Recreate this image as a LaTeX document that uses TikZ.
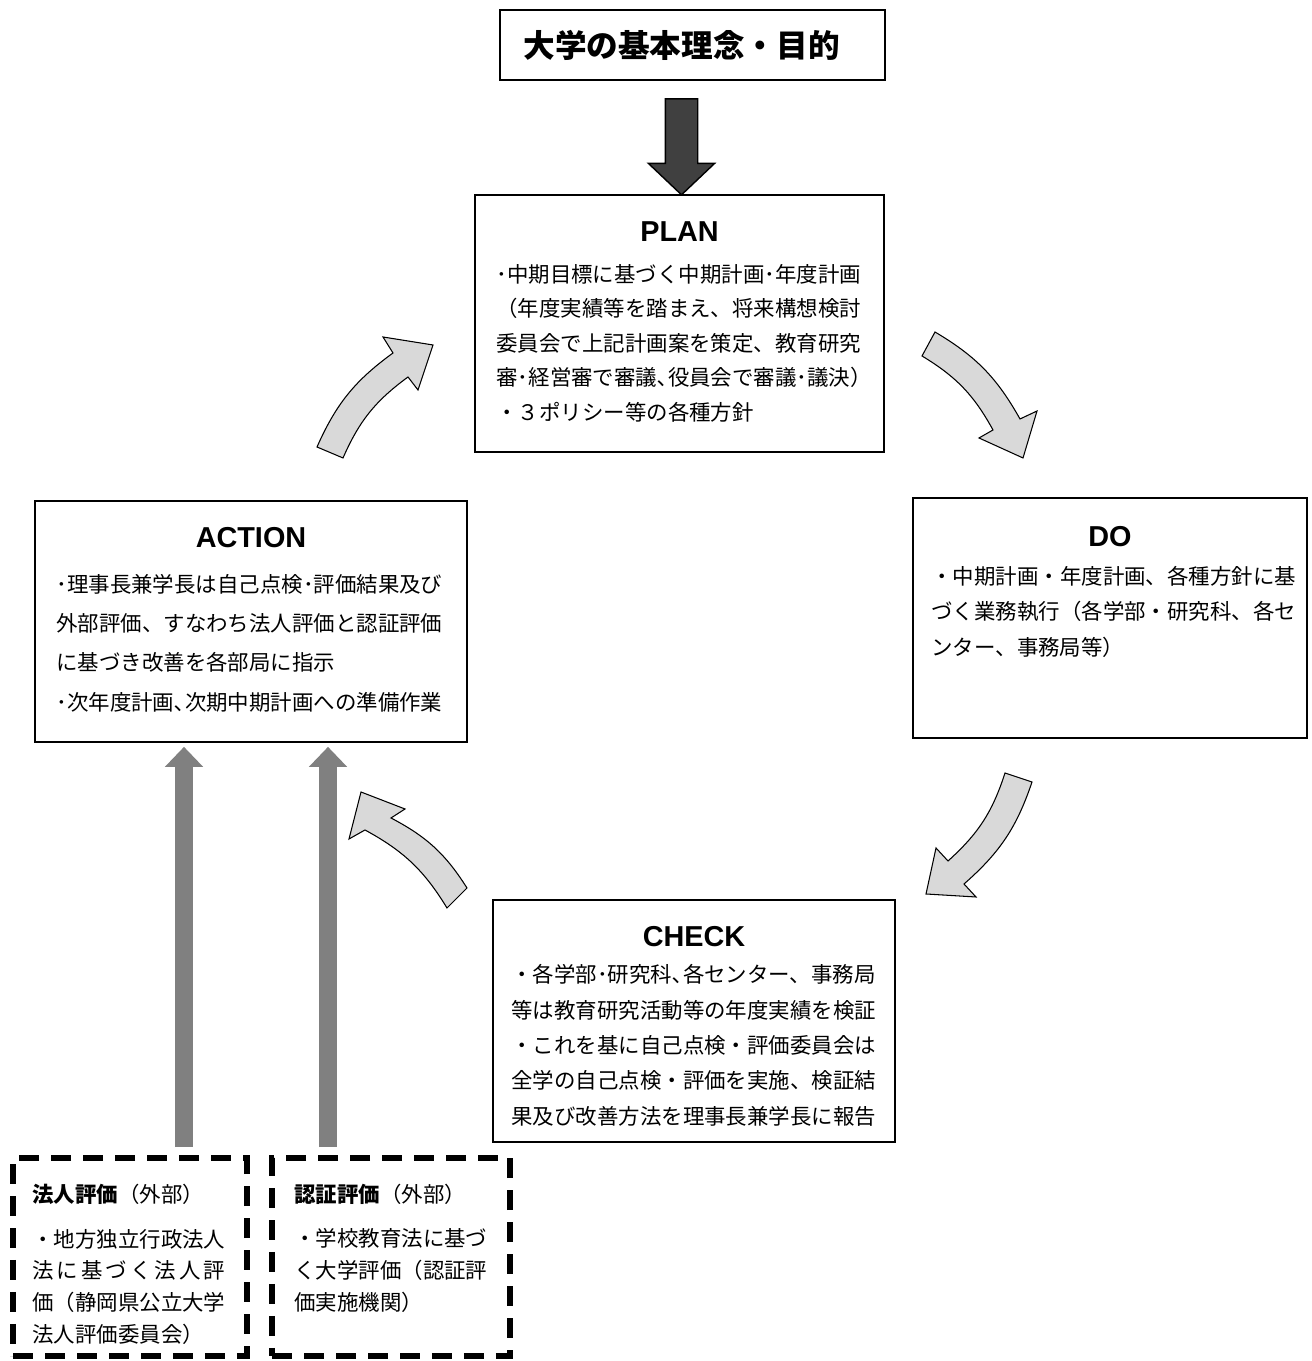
\documentclass[tikz,border=0pt]{standalone}
\usepackage{fontspec}
\setmainfont{Liberation Sans}
\newfontfamily\cjk{Noto Sans CJK JP}
\usetikzlibrary{arrows.meta,shapes.arrows,positioning}

\begin{document}
\begin{tikzpicture}[x=0.02cm, y=0.02cm,
    stage/.style={draw, line width=1pt, inner sep=0pt},
    extbox/.style={draw, line width=0.115cm, dash pattern=on 0.4cm off 0.24cm, inner sep=0pt},
    stagehead/.style={font=\bfseries\fontsize{16.4}{18}\selectfont, inner sep=0pt},
    stagetext/.style={font=\cjk\fontsize{12.2}{20.1}\selectfont, align=left, inner sep=0pt, anchor=base west},
    cycarrow/.style={fill=cyclegray, draw=black, line width=0.6pt},
    uparrow/.style={draw=upgray, line width=0.36cm, shorten <=0.16cm, shorten >=0.08cm,
        -{Triangle[width=0.74cm, length=0.4cm]}}]

        % Define colors
        \definecolor{cyclegray}{RGB}{217, 217, 217}
        \definecolor{upgray}{RGB}{128, 128, 128}
        \definecolor{darkarrow}{RGB}{64, 64, 64}

        \useasboundingbox (0,0) rectangle (1311,1361);

        % --- TOP: basic idea ---
        \node[stage, minimum width=7.7cm, minimum height=1.4cm] (aim) at (692.5,1316) {};
        \node[font=\cjk\bfseries\fontsize{18}{22}\selectfont, inner sep=0pt] (aim-t)
            at ([shift={(-11,0)}]aim.center) {大学の基本理念・目的};

        % --- PLAN ---  (text nodes sit on the baseline of their last line)
        \node[stage, minimum width=8.18cm, minimum height=5.14cm] (plan) at (679.5,1037.5) {};
        \node[stagehead] (plan-t) at ([shift={(0,-37)}]plan.north) {PLAN};
        \node[stagetext, font=\cjk\fontsize{12.2}{19.6}\selectfont] (plan-b) at ([shift={(22,-226)}]plan.north west)
            {･中期目標に基づく中期計画･年度計画\\
             （年度実績等を踏まえ、将来構想検討\\
             委員会で上記計画案を策定、教育研究\\
             審･経営審で審議､役員会で審議･議決）\\
             ・３ポリシー等の各種方針};

        \node[single arrow, draw=black, fill=darkarrow, rotate=-90, line width=0.8pt, inner sep=0.31cm,
            minimum height=1.92cm, minimum width=1.3cm, single arrow head extend=0.34cm,
            single arrow tip angle=93] (down) at ([shift={(2,55)}]plan.north) {};

        % --- DO ---
        \node[stage, minimum width=7.88cm, minimum height=4.8cm] (do) at (1110,743) {};
        \node[stagehead] (do-t) at ([shift={(0,-39)}]do.north) {DO};
        \node[stagetext] (do-b) at ([shift={(19,-158)}]do.north west)
            {・中期計画・年度計画、各種方針に基\\
             づく業務執行（各学部・研究科、各セ\\
             ンター、事務局等）};

        % --- CHECK ---
        \node[stage, minimum width=8.04cm, minimum height=4.84cm] (check) at (694,340) {};
        \node[stagehead] (check-t) at ([shift={(0,-37)}]check.north) {CHECK};
        \node[stagetext] (check-b) at ([shift={(19,-225)}]check.north west)
            {・各学部･研究科､各センター、事務局\\
             等は教育研究活動等の年度実績を検証\\
             ・これを基に自己点検・評価委員会は\\
             全学の自己点検・評価を実施、検証結\\
             果及び改善方法を理事長兼学長に報告};

        % --- ACTION ---
        \node[stage, minimum width=8.64cm, minimum height=4.82cm] (action) at (251,739.5) {};
        \node[stagehead] (action-t) at ([shift={(0,-37)}]action.north) {ACTION};
        \node[stagetext, font=\cjk\fontsize{12.2}{22.4}\selectfont] (action-b) at ([shift={(22,-210)}]action.north west)
            {･理事長兼学長は自己点検･評価結果及び\\
             外部評価、すなわち法人評価と認証評価\\
             に基づき改善を各部局に指示\\
             ･次年度計画､次期中期計画への準備作業};

        % --- curved arrows of the cycle ---
        \draw[cycarrow] (317,914) to[bend left=15] (393,1008) -- (383,1024) -- (433,1016)
            -- (418,971) -- (408,984) to[bend right=15] (343,903) -- cycle;
        \draw[cycarrow] (922,1005) to[bend left=15] (993,931) -- (979,923) -- (1023,903)
            -- (1037,950) -- (1020,942) to[bend right=15] (935,1029) -- cycle;
        \draw[cycarrow] (1032,579) to[bend left=15] (964,477) -- (976,464) -- (926,467)
            -- (936,513) -- (948,500) to[bend right=15] (1005,588) -- cycle;
        \draw[cycarrow] (467,473) to[bend right=15] (391,543) -- (405,552) -- (361,569)
            -- (349,522) -- (365,531) to[bend left=15] (447,453) -- cycle;

        % --- external evaluation (dashed) ---
        \node[extbox, minimum width=4.68cm, minimum height=3.96cm] (hojin) at (130,104) {};
        \node[stagetext, font=\cjk\fontsize{12.2}{18}\selectfont] (hojin-t) at ([shift={(22,-47)}]hojin.north west)
            {{\bfseries 法人評価}（外部）};
        \node[stagetext, font=\cjk\fontsize{12.2}{18}\selectfont] (hojin-b) at ([shift={(22,-187)}]hojin.north west)
            {・地方独立行政法人\\
             \makebox[9em][s]{法\hfill に\hfill 基\hfill づ\hfill く\hfill 法\hfill 人\hfill 評}\\
             価（静岡県公立大学\\
             法人評価委員会）};

        \node[extbox, minimum width=4.76cm, minimum height=3.96cm] (nintei) at (391,104) {};
        \node[stagetext, font=\cjk\fontsize{12.2}{18}\selectfont] (nintei-t) at ([shift={(25,-47)}]nintei.north west)
            {{\bfseries 認証評価}（外部）};
        \node[stagetext, font=\cjk\fontsize{12.2}{18}\selectfont] (nintei-b) at ([shift={(25,-155)}]nintei.north west)
            {・学校教育法に基づ\\
             く大学評価（認証評\\
             価実施機関）};

        % Arrows up to ACTION
        \coordinate (hojin-up) at ([shift={(54,0)}]hojin.north);
        \coordinate (nintei-up) at ([shift={(-63,0)}]nintei.north);
        \draw[uparrow] (hojin-up) -- (hojin-up |- action.south);
        \draw[uparrow] (nintei-up) -- (nintei-up |- action.south);

    \end{tikzpicture}
\end{document}
